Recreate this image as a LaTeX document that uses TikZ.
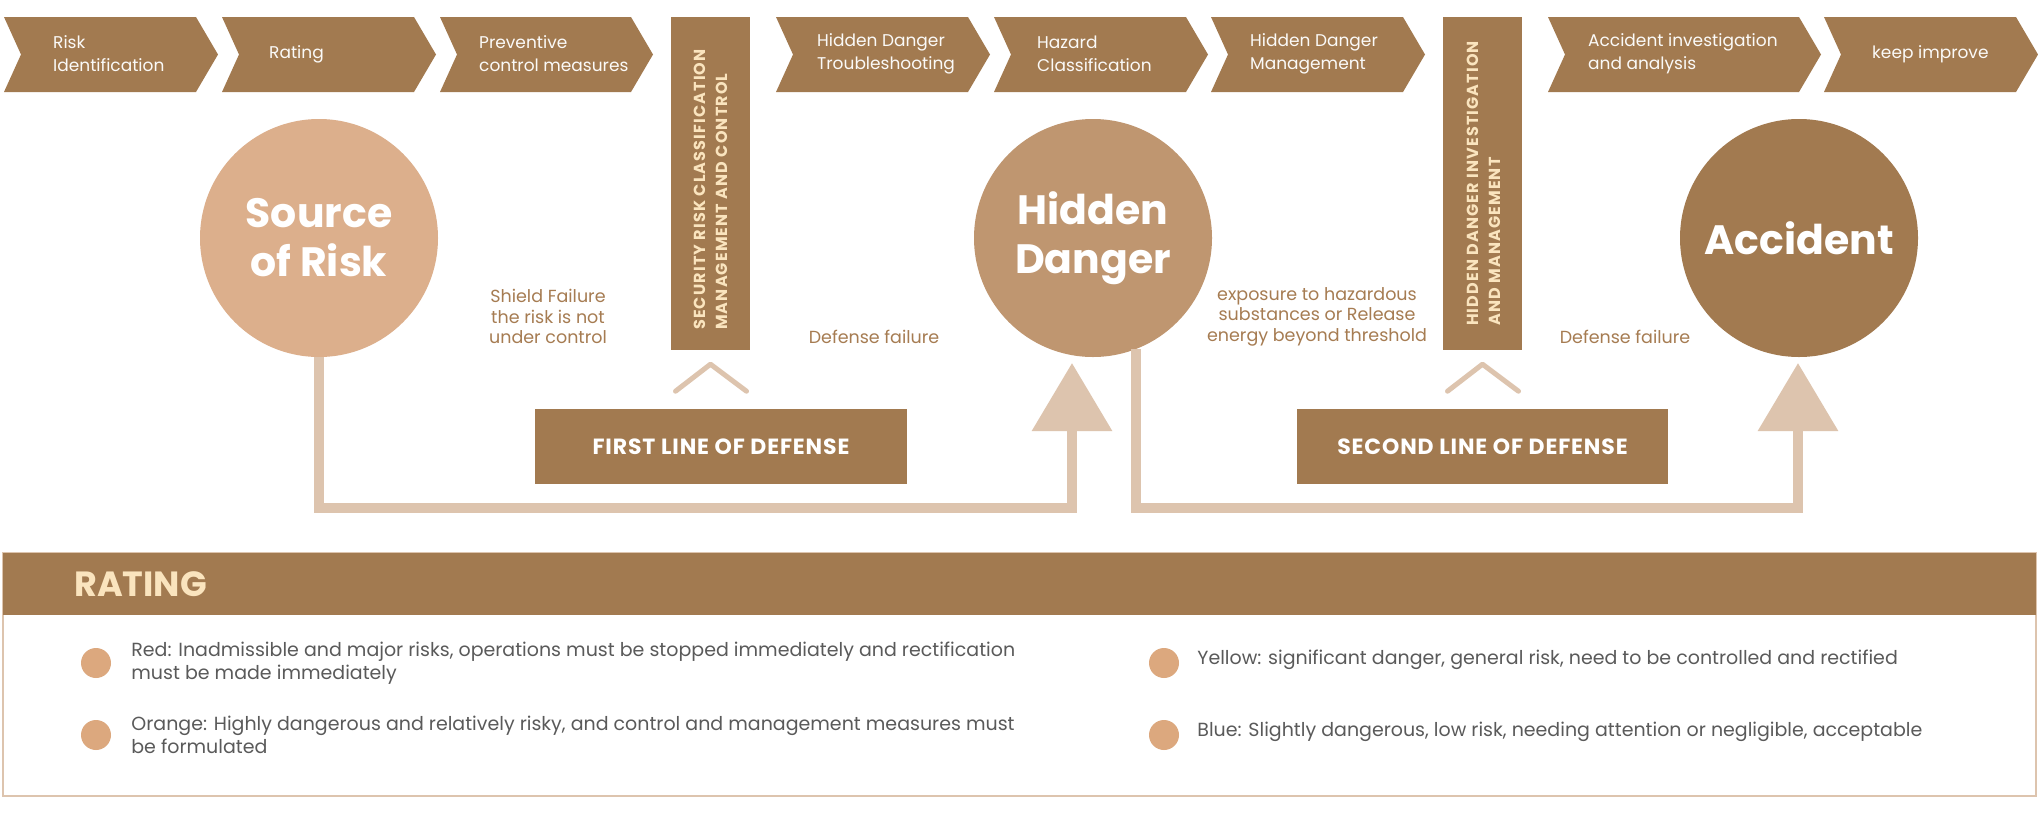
\documentclass[tikz,border=0pt]{standalone}
\usepackage{fontspec}
\setmainfont{Poppins}
\usetikzlibrary{arrows.meta,positioning,calc}
\definecolor{riskBrown}{RGB}{162,122,80}
\definecolor{riskSand}{RGB}{220,175,140}
\definecolor{riskMid}{RGB}{191,150,112}
\definecolor{riskPale}{RGB}{221,196,174}
\definecolor{riskCream}{RGB}{250,228,190}
\definecolor{riskLabel}{RGB}{166,124,82}
\definecolor{riskDot}{RGB}{220,168,126}
\definecolor{riskGrey}{RGB}{90,90,90}
\newcommand{\pxsize}[2]{\fontsize{#1}{#2}\selectfont}
\tikzset{riskpanel/.style={
  x=1pt, y=-1pt,
  chevtxt/.style={anchor=west, align=left, inner sep=0pt, text=white!96!riskBrown, font=\pxsize{17}{23}},
  bar/.style={fill=riskBrown, draw=none, minimum width=79pt, minimum height=333pt, inner sep=0pt},
  bartxt/.style={rotate=90, anchor=west, align=left, inner sep=0pt, text=riskCream, font=\bfseries\pxsize{16}{22}\addfontfeature{LetterSpace=7}},
  bigcirc/.style={circle, minimum size=238pt, inner sep=0pt, draw=none, align=center, text=white, font=\bfseries\pxsize{41}{49}},
  link/.style={draw=riskPale, line width=10pt, -{Triangle[length=68pt, width=78pt]}},
  caret/.style={draw=riskPale, line width=5pt, line cap=round, line join=round},
  defbox/.style={fill=riskBrown, draw=none, minimum height=75pt, inner sep=0pt, text=white, font=\bfseries\pxsize{22}{26}\addfontfeature{LetterSpace=4}},
  note/.style={align=center, inner sep=0pt, text=riskLabel, font=\pxsize{17.5}{20.5}},
  dot/.style={circle, fill=riskDot, draw=none, minimum size=30pt, inner sep=0pt},
  item/.style={anchor=west, align=left, inner sep=0pt, text=riskGrey, font=\pxsize{19}{23}},
}}

\begin{document}
\begin{tikzpicture}[riskpanel]
\useasboundingbox (0,0) rectangle (2038,815);
\fill[white] (0,0) rectangle (2038,815);
% =====================================================================
%  top row: process steps
% =====================================================================
\foreach \l/\t/\tx/\txt [count=\i] in {4/218/53/{Risk\\Identification}, 222/436/269/{Rating},
    440/653/479/{Preventive\\control measures}, 776/990/817/{Hidden Danger\\Troubleshooting},
    994/1208/1037/{Hazard\\Classification}, 1211/1425/1250/{Hidden Danger\\Management},
    1548/1821/1588/{Accident investigation\\and analysis}, 1824/2038/1872/{keep improve}}{
  \fill[riskBrown] (\l,17) -- (\t-22,17) -- (\t,54.5) -- (\t-22,92) -- (\l,92) -- (\l+17,54.5) -- cycle;
  \node[chevtxt] (step\i) at (\tx,54) {\txt};
}

\node[bar] (bar1) at (710.5,183.5) {};
\node[bartxt] (bar1txt) at (710.5,330) {SECURITY RISK CLASSIFICATION\\MANAGEMENT AND CONTROL};
\node[bar] (bar2) at (1482.5,183.5) {};
\node[bartxt] (bar2txt) at (1483.5,326) {HIDDEN DANGER INVESTIGATION\\AND MANAGEMENT};

% =====================================================================
%  middle: source -> hidden danger -> accident
% =====================================================================
\node[bigcirc, fill=riskSand] (src) at (319,238) {Source\\of Risk};
\node[bigcirc, fill=riskMid] (hid) at (1093,238) {Hidden\\Danger};
\node[bigcirc, fill=riskBrown] (acc) at (1799,238) {Accident};

\coordinate (inHid) at (1072,363);
\coordinate (inAcc) at (1798,363);
\draw[link] (src.south) -- ++(0,151) -| (inHid);
\draw[link] (hid.-69) -- ++(0,159) -| (inAcc);

\node[note] (shield) at (548,316.5) {Shield Failure\\the risk is not\\under control};
\node[note] (fail1) at (874,337) {Defense failure};
\node[note] (expo) at (1317,316.5) {exposure to hazardous\\substances or Release\\energy beyond threshold};
\node[note] (fail2) at (1625,337) {Defense failure};

\draw[caret] ($(bar1.south)+(-35,41)$) -- ($(bar1.south)+(0,14)$) -- ($(bar1.south)+(36,41)$);
\draw[caret] ($(bar2.south)+(-35,41)$) -- ($(bar2.south)+(0,14)$) -- ($(bar2.south)+(36,41)$);

\node[defbox, minimum width=372pt] (def1) at (721,446.5) {FIRST LINE OF DEFENSE};
\node[defbox, minimum width=371pt] (def2) at (1482.5,446.5) {SECOND LINE OF DEFENSE};

% =====================================================================
%  bottom: rating legend
% =====================================================================
\node[draw=riskPale, line width=1.5pt, minimum width=2033pt, minimum height=243pt, inner sep=0pt] (panel) at (1019.5,674.5) {};
\node[fill=riskBrown, minimum width=2033pt, minimum height=62pt, inner sep=0pt] (head) at (1019.5,584) {};
\node[anchor=west, inner sep=0pt, text=riskCream, font=\bfseries\pxsize{35}{38}] (rtitle) at (74,584) {RATING};

\node[dot] (dot1) at (96,663) {};
\node[item, right=20pt of dot1] (red) {Red: Inadmissible and major risks, operations must be stopped immediately and rectification\\must be made immediately};
\node[dot] (dot2) at (96,735) {};
\node[item, right=20pt of dot2] (orange) {Orange: Highly dangerous and relatively risky, and control and management measures must\\be formulated};
\node[dot] (dot3) at (1164,663) {};
\node[item, right=18pt of dot3, yshift=3pt] (yellow) {Yellow: significant danger, general risk, need to be controlled and rectified};
\node[dot] (dot4) at (1164,735) {};
\node[item, right=18pt of dot4, yshift=3pt] (blue) {Blue: Slightly dangerous, low risk, needing attention or negligible, acceptable};
\end{tikzpicture}
\end{document}
